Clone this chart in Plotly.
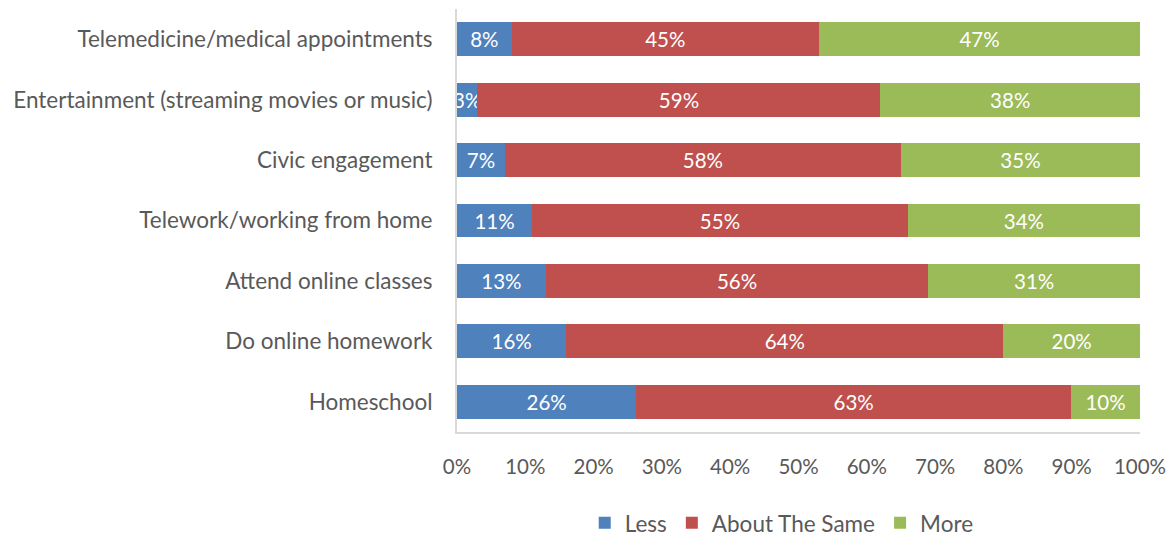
import plotly.graph_objects as go

categories = [
    "Telemedicine/medical appointments",
    "Entertainment (streaming movies or music)",
    "Civic engagement",
    "Telework/working from home",
    "Attend online classes",
    "Do online homework",
    "Homeschool",
]
less = [8, 3, 7, 11, 13, 16, 26]
same = [45, 59, 58, 55, 56, 64, 63]
more = [47, 38, 35, 34, 31, 20, 10]

series = [
    ("Less", less, "#4F81BD"),
    ("About The Same", same, "#C0504D"),
    ("More", more, "#9BBB59"),
]

FONT = "Lato"
GREY = "#595959"
NUM_SIZE = 20.5
WORD_SIZE = 22.5

fig = go.Figure()
for name, vals, color in series:
    fig.add_trace(go.Bar(
        y=categories,
        x=vals,
        name=name,
        orientation="h",
        marker=dict(color=color, line=dict(width=0)),
        text=[f"{v}%" for v in vals],
        textposition="inside",
        insidetextanchor="middle",
        textangle=0,
        textfont=dict(color="white", size=NUM_SIZE, family=FONT),
        cliponaxis=True,
    ))

fig.update_layout(
    barmode="stack",
    barnorm="percent",
    bargap=0.44,
    width=1172,
    height=536,
    margin=dict(l=457, r=32, t=9, b=104, autoexpand=False),
    paper_bgcolor="white",
    plot_bgcolor="white",
    font=dict(family=FONT, size=WORD_SIZE, color=GREY),
    uniformtext=dict(minsize=NUM_SIZE, mode="show"),
    legend=dict(
        orientation="h",
        xref="container", yref="container",
        x=0.667, xanchor="center",
        y=0.024, yanchor="middle",
        font=dict(size=WORD_SIZE, color=GREY, family=FONT),
        traceorder="normal",
        itemwidth=30,
    ),
    xaxis=dict(
        range=[0, 100],
        tickvals=[0, 10, 20, 30, 40, 50, 60, 70, 80, 90, 100],
        ticktext=["0%", "10%", "20%", "30%", "40%", "50%", "60%", "70%", "80%", "90%", "100%"],
        showgrid=False,
        zeroline=False,
        showline=True,
        linecolor="#D9D9D9",
        linewidth=2,
        ticks="",
        ticklabelstandoff=15,
        tickfont=dict(size=NUM_SIZE, color=GREY, family=FONT),
    ),
    yaxis=dict(
        categoryorder="array",
        categoryarray=categories[::-1],
        showgrid=False,
        zeroline=False,
        showline=True,
        linecolor="#D9D9D9",
        linewidth=2,
        ticks="",
        ticklabelstandoff=18,
        tickfont=dict(size=WORD_SIZE, color=GREY, family=FONT),
    ),
)

fig.write_html("out.html")
